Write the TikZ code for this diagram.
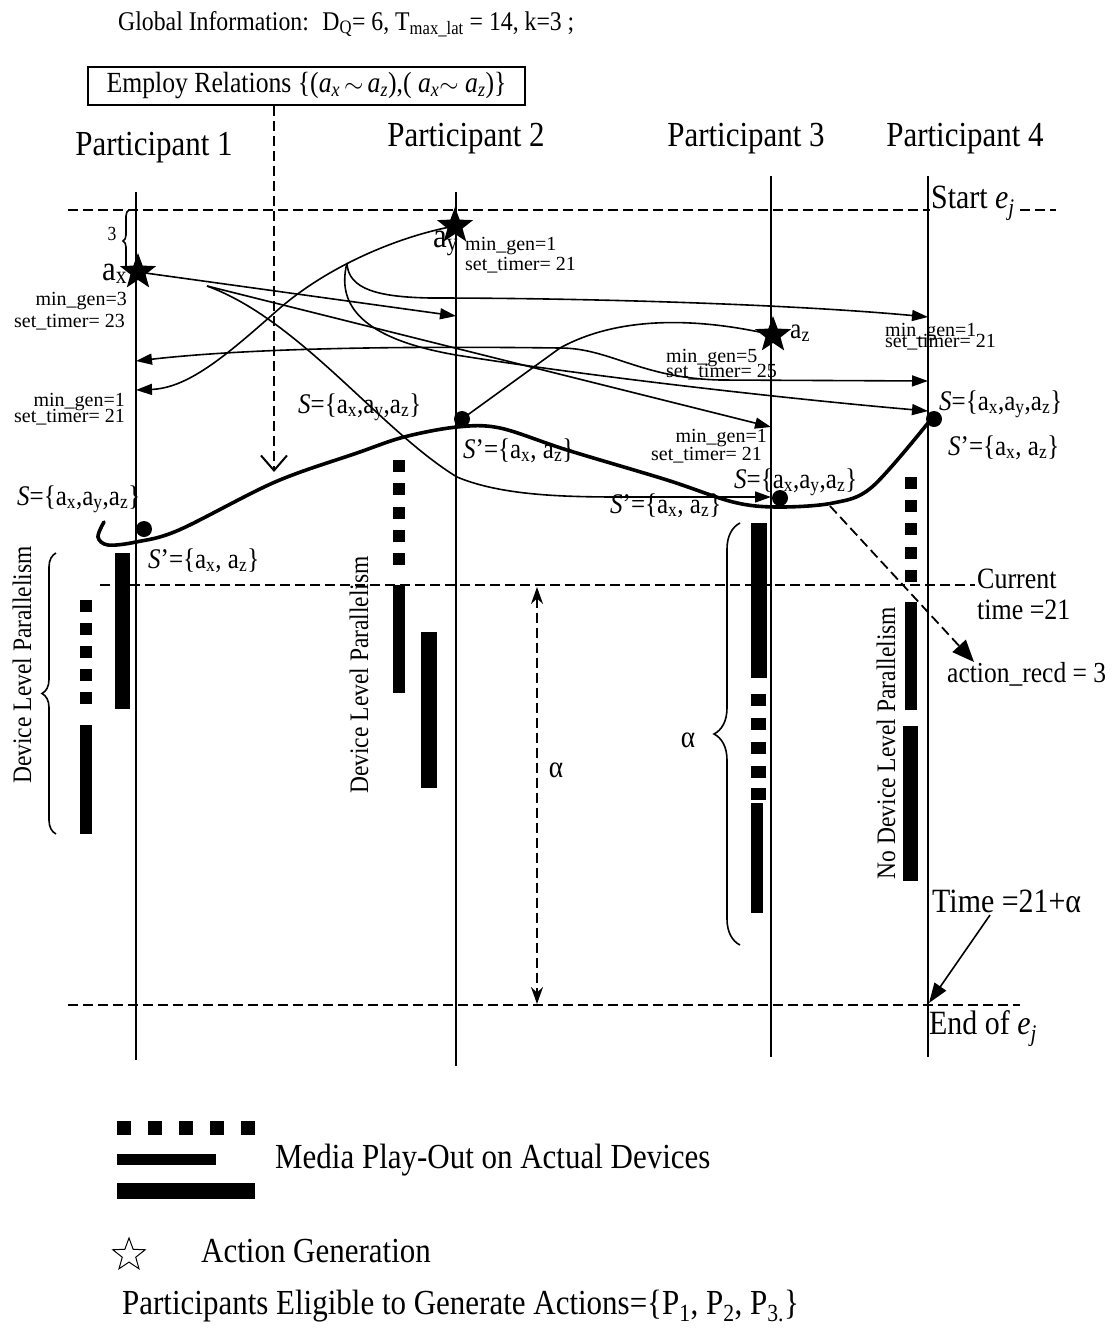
\documentclass[tikz,border=0pt]{standalone}
\usepackage{fontspec}
\setmainfont{Liberation Serif}[FakeStretch=0.88]
\newfontfamily\labelfont{Liberation Serif}
\usetikzlibrary{arrows.meta,shapes.geometric,decorations.pathreplacing}
\newcommand\fsz[1]{\fontsize{#1}{#1}\selectfont}
\newcommand\sub[1]{\textsubscript{#1}}

\begin{document}
\begin{tikzpicture}[x=1pt,y=-1pt,
  life/.style={line width=1.8pt},
  thin/.style={line width=1.6pt},
  msg/.style={line width=1.6pt,-{Triangle[length=16pt,width=11pt]}},
  dline/.style={line width=1.8pt,dash pattern=on 10pt off 5pt},
  dotnode/.style={circle,fill=black,minimum size=16pt,inner sep=0pt},
  actstar/.style={star,star points=5,star point ratio=2.4,fill=black,minimum size=38pt,inner sep=0pt},
  small/.style={font=\labelfont\fsz{20},inner sep=0pt},
  setlbl/.style={font=\fsz{28.4},inner sep=0pt,anchor=base west},
  part/.style={font=\fsz{35.2},inner sep=0pt,anchor=base},
  edgelbl/.style={font=\fsz{34},inner sep=0pt,anchor=base west},
  vlabel/.style={font=\fsz{26.7},rotate=90,inner sep=0pt},
  legtext/.style={font=\fsz{35.2},inner sep=0pt,anchor=base west}
]
\useasboundingbox (0,0) rectangle (1119,1336);

% header
\node[font=\fsz{27},inner sep=0pt,anchor=base west] (glob) at (118,30)
  {Global Information:\enspace D\sub{Q}= 6, T\sub{max\_lat} = 14, k=3 ;};
\node[draw,line width=1.5pt,minimum width=437pt,minimum height=38pt,inner sep=0pt,font=\fsz{29.2}] (emp) at (306.5,86)
  {Employ Relations \{(\textit{a}\sub{\textit{x}}$\,\sim\,$\textit{a}\sub{\textit{z}}),( \textit{a}\sub{\textit{x}}$\sim$ \textit{a}\sub{\textit{z}})\}};

% participants
\node[part] (pt1) at (154,155) {Participant 1};
\node[part] (pt2) at (466,146) {Participant 2};
\node[part] (pt3) at (746,146) {Participant 3};
\node[part] (pt4) at (965,146) {Participant 4};

% lifelines
\coordinate (l1t) at (136,192); \coordinate (l1b) at (136,1060);
\coordinate (l2t) at (456,192); \coordinate (l2b) at (456,1066);
\coordinate (l3t) at (771,176); \coordinate (l3b) at (771,1057);
\coordinate (l4t) at (928,176); \coordinate (l4b) at (928,1057);
\draw[life] (l1t) -- (l1b);
\draw[life] (l2t) -- (l2b);
\draw[life] (l3t) -- (l3b);
\draw[life] (l4t) -- (l4b);

% time lines
\coordinate (st0) at (68,210); \coordinate (st1) at (930,210);
\coordinate (st2) at (1020,210); \coordinate (st3) at (1056,210);
\draw[dline] (st0) -- (st1);
\draw[dline] (st2) -- (st3);
\node[edgelbl] (start) at (931,208) {Start \textit{e}\sub{\textit{j}}};
\coordinate (ct0) at (100,585); \coordinate (ct1) at (975,585);
\draw[dline] (ct0) -- (ct1);
\node[font=\fsz{29.5},inner sep=0pt,anchor=base west] (cur1) at (977,588) {Current};
\node[font=\fsz{29.5},inner sep=0pt,anchor=base west] (cur2) at (977,619) {time =21};
\coordinate (en0) at (68,1005); \coordinate (en1) at (1020,1005);
\draw[dline] (en0) -- (en1);
\node[edgelbl] (endl) at (929,1034) {End of \textit{e}\sub{\textit{j}}};

% actions
\node[actstar] (ax) at (138,272) {};
\node[actstar] (ay) at (455,226) {};
\node[actstar] (az) at (773,335) {};
\node[font=\fsz{35},inner sep=0pt,anchor=base west] (axl) at (102,280) {a\sub{x}};
\node[font=\fsz{35},inner sep=0pt,anchor=base west] (ayl) at (433,247) {a\sub{y}};
\node[font=\fsz{29},inner sep=0pt,anchor=base west] (azl) at (790,338) {a\sub{z}};

% brace of 3
\coordinate (b3a) at (129,272); \coordinate (b3b) at (129,210);
\draw[thin,decorate,decoration={brace,amplitude=6pt}] (b3a) -- (b3b);
\node[font=\fsz{20},inner sep=0pt] (three) at (112,234) {3};

% arrival points
\coordinate (p1a) at (136,361); \coordinate (p1b) at (136,390);
\coordinate (p2a) at (456,316);
\coordinate (p3a) at (771,427); \coordinate (p3b) at (771,497);
\coordinate (p4a) at (928,317); \coordinate (p4b) at (928,381); \coordinate (p4c) at (928,411);
\coordinate (axo) at (207,286);
\coordinate (fk) at (347,263);
\coordinate (jz) at (560,348);

% messages of a_x
\draw[msg] (ax.center) -- (p2a);
\draw[msg] (axo) -- (p3a);
\draw[msg] (axo) .. controls (300,320) and (380,430) .. (457,477)
  .. controls (500,495) and (560,497) .. (620,497) -- (p3b);

% messages of a_y
\draw[msg] (ay.center) .. controls (400,236) and (330,265) .. (280,308)
  .. controls (230,352) and (190,388) .. (p1b);
\draw[msg] (fk) .. controls (348,290) and (380,297) .. (430,298)
  .. controls (600,298) and (800,305) .. (p4a);
\draw[msg] (fk) .. controls (335,310) and (370,340) .. (456,355)
  .. controls (600,378) and (800,400) .. (p4c);

% messages of a_z
\node[dotnode] (d2) at (462,419) {};
\draw[thin] (az.center) .. controls (700,318) and (620,315) .. (jz);
\draw[thin] (jz) -- (d2.center);
\draw[msg] (jz) .. controls (400,346) and (250,348) .. (p1a);
\draw[msg] (jz) .. controls (610,348) and (640,378) .. (720,380) -- (p4b);

% synchronisation curve
\node[dotnode] (d1) at (144,529) {};
\node[dotnode] (d3) at (780,498) {};
\node[dotnode] (d4) at (934,419) {};
\draw[line width=3.6pt,line cap=round] plot[smooth,tension=0.55] coordinates
  {(104,522) (98,537) (108,545) (136,542) (179,530) (275,482) (357,453) (404,437)
   (457,427) (500,428) (567,450) (667,480) (733,502) (777,507) (833,503) (872,487) (928,423)};

% timer labels
\node[small,anchor=base east] (mg1) at (127,305) {min\_gen=3};
\node[small,anchor=base east] (st1l) at (125,327) {set\_timer= 23};
\node[small,anchor=base west] (mg2) at (465,250) {min\_gen=1};
\node[small,anchor=base west] (st2l) at (465,270) {set\_timer= 21};
\node[small,anchor=base east] (mg3) at (125,406) {min\_gen=1};
\node[small,anchor=base east] (st3l) at (125,422) {set\_timer= 21};
\node[small,anchor=base west] (mg4) at (885,336) {min\_gen=1};
\node[small,anchor=base west] (st4l) at (885,347) {set\_timer= 21};
\node[small,anchor=base west] (mg5) at (666,362) {min\_gen=5};
\node[small,anchor=base west] (st5l) at (666,377) {set\_timer= 25};
\node[small,anchor=base east] (mg6) at (767,442) {min\_gen=1};
\node[small,anchor=base east] (st6l) at (762,460) {set\_timer= 21};

% set labels
\node[setlbl] (s1) at (17,505) {\textit{S}=\{a\sub{x},a\sub{y},a\sub{z}\}};
\node[setlbl] (s1p) at (148,568) {\textit{S}\textquoteright=\{a\sub{x}, a\sub{z}\}};
\node[setlbl] (s2) at (298,413) {\textit{S}=\{a\sub{x},a\sub{y},a\sub{z}\}};
\node[setlbl] (s2p) at (463,458) {\textit{S}\textquoteright=\{a\sub{x}, a\sub{z}\}};
\node[setlbl] (s3) at (734,488) {\textit{S}=\{a\sub{x},a\sub{y},a\sub{z}\}};
\node[setlbl] (s3p) at (610,513) {\textit{S}\textquoteright=\{a\sub{x}, a\sub{z}\}};
\node[setlbl] (s4) at (939,410) {\textit{S}=\{a\sub{x},a\sub{y},a\sub{z}\}};
\node[setlbl] (s4p) at (948,455) {\textit{S}\textquoteright=\{a\sub{x}, a\sub{z}\}};

% employ relation pointer
\coordinate (ea) at (274,106); \coordinate (eb) at (274,472);
\draw[dline,-{Straight Barb[length=15pt,width=26pt,line width=2pt]}] (ea) -- (eb);

% action_recd pointer
\coordinate (ra) at (830,506); \coordinate (rb) at (974,662);
\draw[dline,-{Triangle[length=22pt,width=18pt]}] (ra) -- (rb);
\node[font=\fsz{29},inner sep=0pt,anchor=base west] (recd) at (947,682) {action\_recd = 3};

% alpha span
\coordinate (aa) at (537,587); \coordinate (ab) at (537,1004);
\draw[dline,{Stealth[length=17pt,width=12pt]}-{Stealth[length=17pt,width=12pt]}] (aa) -- (ab);
\node[font=\fsz{31},inner sep=0pt] (alp1) at (556,770) {α};

% end time pointer
\node[font=\fsz{34},inner sep=0pt,anchor=base west] (tend) at (932,912) {Time =21+α};
\coordinate (ta) at (990,915); \coordinate (tb) at (929,1003);
\draw[thin,-{Triangle[length=20pt,width=14pt]}] (ta) -- (tb);

% media play-out, participant 1
\fill (115,553) rectangle (130,709);
\foreach \y in {600,623,646,669,692} \fill (80,\y) rectangle (92,\y+12);
\fill (80,725) rectangle (92,834);
\coordinate (br1a) at (56,834); \coordinate (br1b) at (56,553);
\draw[thin,decorate,decoration={brace,amplitude=14pt}] (br1a) -- (br1b);
\node[vlabel] (dl1) at (22,665) {Device Level Parallelism};

% media play-out, participant 2
\foreach \y in {460,483,507,530,553} \fill (393,\y) rectangle (405,\y+12);
\fill (393,585) rectangle (405,693);
\fill (421,632) rectangle (437,788);
\node[vlabel] (dl2) at (359,675) {Device Level Parallelism};

% media play-out, participant 3
\fill (751,523) rectangle (767,678);
\foreach \y in {694,718,742,766,788} \fill (751,\y) rectangle (766,\y+12);
\fill (751,803) rectangle (763,913);
\coordinate (br3a) at (740,945); \coordinate (br3b) at (740,523);
\draw[thin,decorate,decoration={brace,amplitude=26pt}] (br3a) -- (br3b);
\node[font=\fsz{31},inner sep=0pt] (alp2) at (688,740) {α};

% media play-out, participant 4
\foreach \y in {477,500,523,547,570} \fill (905,\y) rectangle (917,\y+12);
\fill (905,602) rectangle (917,710);
\fill (903,726) rectangle (918,881);
\node[vlabel] (dl4) at (886,743) {No Device Level Parallelism};

% legend
\foreach \x in {117,148,179,210,241} \fill (\x,1121) rectangle (\x+14,1135);
\fill (117,1154) rectangle (216,1165);
\fill (117,1183) rectangle (255,1199);
\node[legtext] (lg1) at (275,1168) {Media Play-Out on Actual Devices};
\node[star,star points=5,star point ratio=2.4,draw,line width=1pt,minimum size=34pt,inner sep=0pt] (lgs) at (129,1255) {};
\node[legtext] (lg2) at (201,1262) {Action Generation};
\node[legtext] (lg3) at (122,1314) {Participants Eligible to Generate Actions=\{P\sub{1}, P\sub{2}, P\sub{3.}\}};
\end{tikzpicture}
\end{document}
